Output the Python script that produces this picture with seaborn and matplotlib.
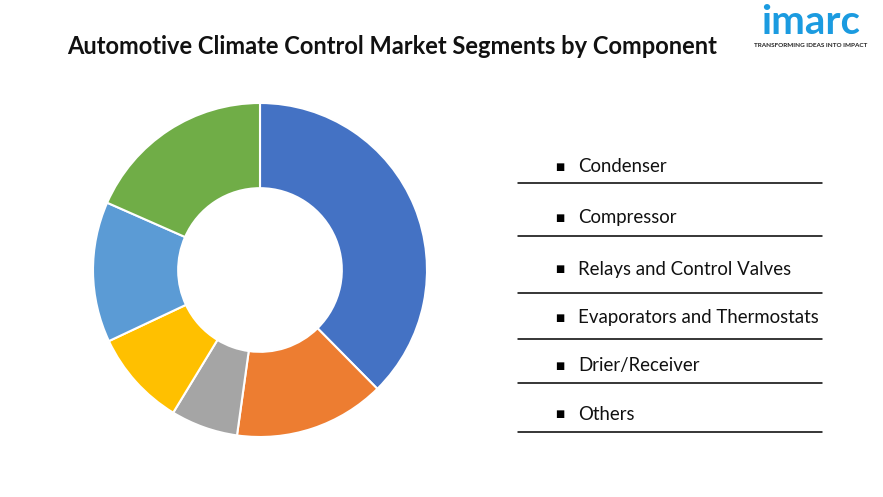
import matplotlib
matplotlib.use("Agg")
import matplotlib.pyplot as plt
import seaborn as sns
from matplotlib.lines import Line2D

# Data (share of the ring, %)
segments = ["Condenser", "Compressor", "Relays and Control Valves",
            "Evaporators and Thermostats", "Drier/Receiver", "Others"]
shares = [37.6, 14.6, 6.5, 9.3, 13.6, 18.4]
colors = ["#4472C4", "#ED7D31", "#A5A5A5", "#FFC000", "#5B9BD5", "#70AD47"]

title = "Automotive Climate Control Market Segments by Component"

sns.set_theme(style="white")
plt.rcParams['font.family'] = ['Lato', 'DejaVu Sans']

W, H = 883, 497
fig = plt.figure(figsize=(W / 100, H / 100), dpi=100)
fig.patch.set_facecolor("white")

def fx(px):
    return px / W

def fy(py):
    return 1 - py / H

# Donut
cx, cy, r = 260, 270, 167
ax = fig.add_axes([fx(cx - r), fy(cy + r), 2 * r / W, 2 * r / H])
ax.pie(shares, colors=colors, startangle=90, counterclock=False, radius=1,
       wedgeprops=dict(width=0.51, edgecolor="white", linewidth=1.5))
ax.set_xlim(-1.0, 1.0)
ax.set_ylim(-1.0, 1.0)
ax.set_aspect("equal")
ax.axis("off")

# Title
fig.text(fx(67), fy(47), title, fontsize=17, fontweight="bold",
         color="#111111", ha="left", va="center")

# Logo
fig.text(fx(811), fy(41), "imarc", fontsize=29, fontweight="bold",
         color="#1B9BE0", ha="center", va="bottom")
fig.text(fx(811), fy(46), "TRANSFORMING IDEAS INTO IMPACT", fontsize=4.6,
         fontweight="bold", color="#222222", ha="center", va="center")

# Legend list with separator lines
row_y = [167, 218, 269, 318, 366, 414]
line_y = [183, 236, 293, 339, 383, 432]
for name, ty, ly in zip(segments, row_y, line_y):
    fig.text(fx(560), fy(ty), "\u25a0", fontsize=7, color="black",
             ha="center", va="center", family=['DejaVu Sans'])
    fig.text(fx(578), fy(ty), name, fontsize=13.4, color="#111111",
             ha="left", va="center")
    fig.add_artist(Line2D([fx(518), fx(822)], [fy(ly), fy(ly)],
                          color="black", linewidth=1.1))

fig.savefig("out.png", dpi=100, facecolor="white")
